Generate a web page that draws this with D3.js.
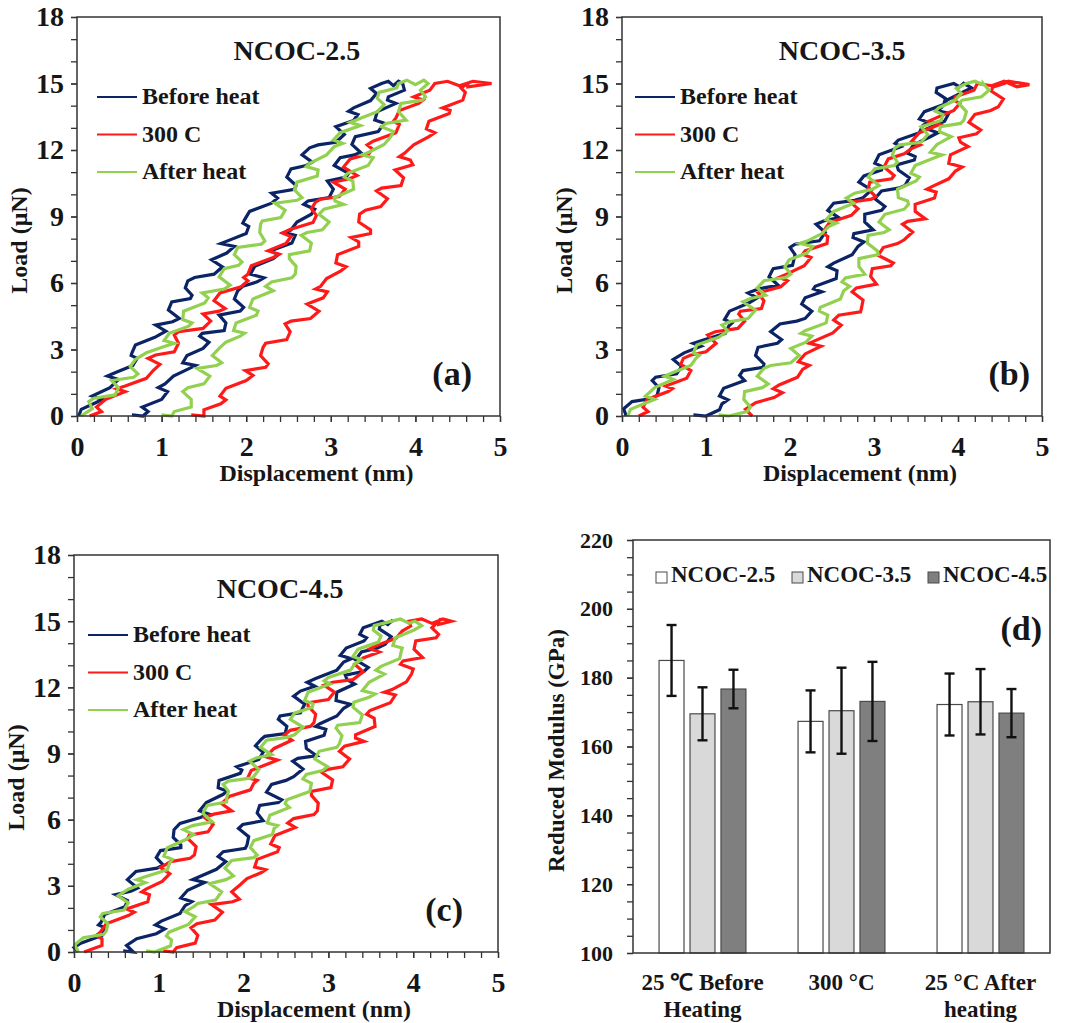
<!DOCTYPE html>
<html>
<head>
<meta charset="utf-8">
<script src="https://cdn.jsdelivr.net/npm/d3@7"></script>
<style>
  body { margin: 0; background: #fff; }
</style>
</head>
<body>
<svg id="fig" width="1068" height="1023"></svg>
<script>
// ---- load-displacement data (displacement nm, load uN) ----
const seriesNames = ["Before heat", "300 C", "After heat"];
const dispTicks = [0, 1, 2, 3, 4, 5];
const loadTicks = [0, 3, 6, 9, 12, 15, 18];

const a_beforeHeat = [[0.02,0],[0.05,0.3],[0.22,0.6],[0.30,0.75],[0.18,0.9],[0.39,1.28],[0.49,1.65],[0.36,1.8],[0.45,1.95],[0.66,2.28],[0.71,2.6],[0.64,2.73],[0.65,2.85],[0.69,3.2],[0.92,3.55],[1.05,3.83],[0.93,4.1],[1.13,4.25],[1.21,4.4],[1.08,4.78],[1.12,5.15],[1.34,5.3],[1.36,5.45],[1.28,5.78],[1.31,6.1],[1.39,6.25],[1.62,6.4],[1.72,6.73],[1.59,7.05],[1.77,7.35],[1.86,7.65],[1.70,7.78],[1.78,7.9],[2.0,8.23],[2.03,8.55],[1.96,8.7],[1.98,8.85],[2.04,9.23],[2.30,9.6],[2.37,9.83],[2.30,10.05],[2.57,10.23],[2.59,10.4],[2.48,10.78],[2.53,11.15],[2.71,11.3],[2.78,11.45],[2.66,11.78],[2.75,12.1],[2.85,12.23],[3.06,12.35],[3.16,12.7],[3.06,13.05],[3.27,13.33],[3.32,13.6],[3.21,13.75],[3.27,13.9],[3.47,14.23],[3.54,14.55],[3.47,14.78],[3.6,15],
  [3.68,15.1],[3.74,14.9],[3.8,15.1],
  [3.85,15],[3.87,14.7],[3.68,14.4],[3.67,14.25],[3.77,14.1],[3.55,13.73],[3.52,13.35],[3.64,13.2],[3.60,13.05],[3.56,12.83],[3.29,12.6],[3.25,12.25],[3.35,11.9],[3.28,11.78],[3.11,11.65],[3.04,11.3],[3.21,10.95],[3.18,10.78],[2.96,10.6],[3.03,10.23],[2.98,9.85],[2.73,9.7],[2.68,9.55],[2.81,9.33],[2.77,9.1],[2.60,8.75],[2.53,8.4],[2.45,8.28],[2.58,8.15],[2.54,7.8],[2.29,7.45],[2.38,7.28],[2.32,7.1],[2.10,6.75],[2.05,6.4],[2.21,6.23],[2.13,6.05],[1.96,5.85],[1.90,5.65],[1.86,5.28],[1.97,4.9],[1.93,4.73],[1.68,4.55],[1.76,4.2],[1.74,3.85],[1.48,3.73],[1.45,3.6],[1.56,3.33],[1.49,3.05],[1.30,2.73],[1.25,2.4],[1.40,2.28],[1.33,2.15],[1.14,1.8],[1.04,1.45],[0.96,1.28],[1.07,1.1],[1.00,0.75],[0.77,0.4],[0.84,0.2],[0.78,0],[0.65,0.05]];
const a_300C = [[0.15,0],[0.29,0.2],[0.23,0.4],[0.34,0.75],[0.57,1.1],[0.47,1.23],[0.57,1.35],[0.82,1.7],[0.90,2.05],[0.98,2.33],[0.84,2.6],[0.93,2.75],[1.15,2.9],[1.20,3.28],[1.15,3.65],[1.20,3.8],[1.49,3.95],[1.58,4.28],[1.49,4.6],[1.68,4.73],[1.75,4.85],[1.62,5.2],[1.69,5.55],[1.94,5.83],[2.02,6.1],[1.97,6.25],[2.02,6.4],[2.06,6.78],[2.32,7.15],[2.39,7.3],[2.26,7.45],[2.47,7.78],[2.53,8.1],[2.43,8.25],[2.51,8.4],[2.79,8.73],[2.83,9.05],[2.77,9.35],[2.82,9.65],[2.88,9.78],[3.10,9.9],[3.17,10.23],[3.03,10.55],[3.22,10.7],[3.31,10.85],[3.15,11.23],[3.23,11.6],[3.45,11.83],[3.49,12.05],[3.43,12.23],[3.50,12.4],[3.77,12.78],[3.81,13.15],[3.74,13.3],[3.77,13.45],[3.81,13.78],[4.04,14.1],[4.09,14.25],[3.98,14.4],[4.17,14.7],[4.23,15],
  [4.38,15.1],[4.52,14.9],[4.68,15.1],[4.9,15.0],[4.62,14.85],
  [4.62,15],[4.54,14.8],[4.59,14.6],[4.56,14.25],[4.32,13.9],[4.41,13.78],[4.40,13.65],[4.16,13.3],[4.13,12.95],[4.23,12.78],[4.16,12.6],[3.98,12.23],[3.87,11.85],[3.81,11.7],[3.94,11.55],[3.97,11.33],[3.76,11.1],[3.86,10.75],[3.83,10.4],[3.60,10.28],[3.54,10.15],[3.67,9.8],[3.59,9.45],[3.41,9.28],[3.34,9.1],[3.33,8.75],[3.47,8.4],[3.47,8.23],[3.24,8.05],[3.33,7.85],[3.33,7.65],[3.08,7.28],[3.06,6.9],[3.18,6.73],[3.12,6.55],[2.95,6.2],[2.88,5.85],[2.82,5.73],[2.96,5.6],[2.91,5.33],[2.72,5.05],[2.86,4.73],[2.76,4.4],[2.53,4.28],[2.46,4.15],[2.52,3.8],[2.48,3.45],[2.23,3.28],[2.2,3.1],[2.17,2.73],[2.26,2.35],[2.23,2.2],[1.99,2.05],[2.08,1.83],[2.0,1.6],[1.76,1.25],[1.69,0.9],[1.76,0.73],[1.70,0.55],[1.50,0.28],[1.5,0],[1.35,0.05]];
const a_afterHeat = [[0.05,0],[0.18,0.33],[0.14,0.65],[0.20,0.8],[0.45,0.95],[0.49,1.28],[0.41,1.6],[0.67,1.75],[0.72,1.9],[0.63,2.23],[0.69,2.55],[0.82,2.85],[1.04,3.15],[1.15,3.28],[1.03,3.4],[1.09,3.73],[1.32,4.05],[1.36,4.2],[1.25,4.35],[1.26,4.73],[1.51,5.1],[1.55,5.33],[1.48,5.55],[1.74,5.73],[1.81,5.9],[1.68,6.28],[1.74,6.65],[1.91,6.8],[1.95,6.95],[1.86,7.28],[1.90,7.6],[2.18,7.75],[2.22,7.9],[2.16,8.28],[2.17,8.65],[2.19,8.8],[2.41,8.95],[2.46,9.28],[2.34,9.6],[2.60,9.73],[2.66,9.85],[2.57,10.2],[2.60,10.55],[2.84,10.83],[2.85,11.1],[2.71,11.25],[2.75,11.4],[2.95,11.78],[3.04,12.15],[3.14,12.3],[3.03,12.45],[3.11,12.78],[3.35,13.1],[3.23,13.25],[3.33,13.4],[3.55,13.73],[3.63,14.05],[3.55,14.33],[3.57,14.6],[3.78,14.8],[3.8,15],
  [3.9,15.15],[4.0,14.95],[4.1,15.15],
  [4.15,15],[4.06,14.7],[4.12,14.4],[4.08,14.25],[3.83,14.1],[3.80,13.73],[3.89,13.35],[3.65,13.2],[3.60,13.05],[3.74,12.83],[3.71,12.6],[3.63,12.25],[3.45,11.9],[3.37,11.78],[3.50,11.65],[3.44,11.3],[3.20,10.95],[3.16,10.78],[3.26,10.6],[3.27,10.23],[3.04,9.85],[3.05,9.7],[3.15,9.55],[2.92,9.33],[2.86,9.1],[2.98,8.75],[2.90,8.4],[2.72,8.28],[2.65,8.15],[2.77,7.8],[2.75,7.45],[2.51,7.28],[2.51,7.1],[2.59,6.75],[2.58,6.4],[2.54,6.23],[2.30,6.05],[2.23,5.85],[2.32,5.65],[2.08,5.28],[2.04,4.9],[2.14,4.73],[2.12,4.55],[1.88,4.2],[1.85,3.85],[1.98,3.73],[1.93,3.6],[1.76,3.33],[1.68,3.05],[1.60,2.73],[1.71,2.4],[1.65,2.28],[1.42,2.15],[1.57,1.8],[1.50,1.45],[1.31,1.28],[1.25,1.1],[1.35,0.75],[1.35,0.4],[1.15,0.2],[1.12,0],[1.0,0.05]];

const b_beforeHeat = [[0.05,0],[0.02,0.33],[0.12,0.65],[0.37,0.8],[0.42,0.95],[0.44,1.28],[0.36,1.6],[0.40,1.75],[0.65,1.9],[0.71,2.23],[0.61,2.55],[0.74,2.85],[0.94,3.15],[0.85,3.28],[0.95,3.4],[1.23,3.73],[1.27,4.05],[1.31,4.2],[1.22,4.35],[1.28,4.73],[1.51,5.1],[1.61,5.33],[1.5,5.55],[1.62,5.73],[1.86,5.9],[1.75,6.28],[1.80,6.65],[2.03,6.8],[2.04,6.95],[2.06,7.28],[2.0,7.6],[2.06,7.75],[2.35,7.9],[2.42,8.28],[2.31,8.65],[2.40,8.8],[2.58,8.95],[2.45,9.28],[2.52,9.6],[2.77,9.73],[2.87,9.85],[2.97,10.2],[2.82,10.55],[2.88,10.83],[3.09,11.1],[3.10,11.25],[3.01,11.4],[3.06,11.78],[3.32,12.15],[3.25,12.3],[3.29,12.45],[3.54,12.78],[3.58,13.1],[3.64,13.25],[3.54,13.4],[3.60,13.73],[3.83,14.05],[3.85,14.33],[3.74,14.6],[3.75,14.8],[3.95,15],
  [4.02,14.85],[4.08,15.05],
  [4.07,15],[4.16,14.8],[4.05,14.6],[3.87,14.25],[3.80,13.9],[3.75,13.78],[3.89,13.65],[3.84,13.3],[3.63,12.95],[3.76,12.78],[3.67,12.6],[3.47,12.23],[3.40,11.85],[3.49,11.7],[3.48,11.55],[3.27,11.33],[3.29,11.1],[3.42,10.75],[3.37,10.4],[3.29,10.28],[3.09,10.15],[3.01,9.8],[3.13,9.45],[3.09,9.28],[2.89,9.1],[2.89,8.75],[2.99,8.4],[2.76,8.23],[2.75,8.05],[2.88,7.85],[2.81,7.65],[2.74,7.28],[2.52,6.9],[2.45,6.73],[2.56,6.55],[2.55,6.2],[2.30,5.85],[2.28,5.73],[2.38,5.6],[2.18,5.33],[2.14,5.05],[2.26,4.73],[2.18,4.4],[2.08,4.28],[1.88,4.15],[1.77,3.8],[1.90,3.45],[1.85,3.28],[1.62,3.1],[1.59,2.73],[1.69,2.35],[1.68,2.2],[1.44,2.05],[1.40,1.83],[1.46,1.6],[1.21,1.25],[1.16,0.9],[1.26,0.73],[1.19,0.55],[1.16,0.28],[1.0,0],[0.85,0.05]];
const b_300C = [[0.2,0],[0.31,0.2],[0.25,0.4],[0.30,0.75],[0.55,1.1],[0.60,1.23],[0.52,1.35],[0.77,1.7],[0.82,2.05],[0.70,2.33],[0.73,2.6],[0.82,2.75],[1.0,2.9],[1.12,3.28],[1.02,3.65],[1.11,3.8],[1.38,3.95],[1.46,4.28],[1.39,4.6],[1.41,4.73],[1.66,4.85],[1.69,5.2],[1.62,5.55],[1.89,5.83],[1.97,6.1],[1.87,6.25],[1.96,6.4],[2.17,6.78],[2.25,7.15],[2.15,7.3],[2.18,7.45],[2.44,7.78],[2.45,8.1],[2.39,8.25],[2.41,8.4],[2.47,8.73],[2.73,9.05],[2.81,9.35],[2.72,9.65],[2.97,9.78],[3.02,9.9],[2.93,10.23],[2.95,10.55],[3.21,10.7],[3.24,10.85],[3.12,11.23],[3.17,11.6],[3.36,11.83],[3.44,12.05],[3.55,12.23],[3.45,12.4],[3.54,12.78],[3.78,13.15],[3.65,13.3],[3.74,13.45],[3.95,13.78],[4.02,14.1],[3.95,14.25],[3.97,14.4],[4.19,14.7],[4.23,15],
  [4.4,14.9],[4.55,15.1],[4.7,14.85],[4.85,14.95],[4.6,15.1],
  [4.55,15],[4.41,14.83],[4.40,14.65],[4.54,14.3],[4.48,13.95],[4.39,13.78],[4.2,13.6],[4.13,13.25],[4.27,12.9],[4.22,12.73],[4.01,12.55],[4.03,12.35],[4.12,12.15],[3.91,11.78],[3.89,11.4],[4.05,11.23],[3.97,11.05],[3.89,10.7],[3.69,10.35],[3.63,10.23],[3.74,10.1],[3.72,9.83],[3.49,9.55],[3.49,9.23],[3.61,8.9],[3.40,8.78],[3.34,8.65],[3.46,8.3],[3.36,7.95],[3.28,7.78],[3.11,7.6],[3.05,7.25],[3.23,6.9],[3.20,6.78],[2.98,6.65],[2.96,6.3],[3.03,5.95],[2.79,5.78],[2.74,5.6],[2.87,5.23],[2.85,4.85],[2.84,4.7],[2.58,4.55],[2.52,4.33],[2.61,4.1],[2.51,3.75],[2.3,3.4],[2.23,3.28],[2.37,3.15],[2.18,2.8],[2.1,2.45],[2.23,2.28],[2.15,2.1],[2.09,1.75],[1.87,1.4],[1.80,1.23],[1.91,1.05],[1.81,0.83],[1.59,0.6],[1.47,0.3],[1.55,0]];
const b_afterHeat = [[0.07,0],[0.10,0.3],[0.29,0.6],[0.39,0.75],[0.28,0.9],[0.39,1.28],[0.61,1.65],[0.51,1.8],[0.6,1.95],[0.82,2.28],[0.88,2.6],[0.92,2.73],[0.85,2.85],[0.89,3.2],[1.15,3.55],[1.26,3.83],[1.19,4.1],[1.28,4.25],[1.5,4.4],[1.59,4.78],[1.44,5.15],[1.53,5.3],[1.71,5.45],[1.61,5.78],[1.69,6.1],[1.95,6.25],[2.01,6.4],[1.94,6.73],[1.99,7.05],[2.20,7.35],[2.27,7.65],[2.12,7.78],[2.21,7.9],[2.38,8.23],[2.46,8.55],[2.55,8.7],[2.43,8.85],[2.52,9.23],[2.76,9.6],[2.67,9.83],[2.77,10.05],[2.98,10.23],[3.06,10.4],[2.93,10.78],[3.01,11.15],[3.24,11.3],[3.28,11.45],[3.22,11.78],[3.25,12.1],[3.31,12.23],[3.56,12.35],[3.64,12.7],[3.56,13.05],[3.80,13.33],[3.82,13.6],[3.73,13.75],[3.77,13.9],[3.96,14.23],[4.04,14.55],[3.98,14.78],[4.1,15],
  [4.2,15.1],[4.3,14.95],
  [4.3,15],[4.37,14.7],[4.28,14.4],[4.05,14.25],[4.01,14.1],[4.10,13.73],[4.07,13.35],[4.03,13.2],[3.79,13.05],[3.78,12.83],[3.92,12.6],[3.75,12.25],[3.67,11.9],[3.81,11.78],[3.72,11.65],[3.49,11.3],[3.44,10.95],[3.54,10.78],[3.5,10.6],[3.28,10.23],[3.29,9.85],[3.40,9.7],[3.41,9.55],[3.36,9.33],[3.13,9.1],[3.06,8.75],[3.18,8.4],[3.12,8.28],[2.93,8.15],[2.92,7.8],[3.04,7.45],[3.05,7.28],[2.82,7.1],[2.82,6.75],[2.89,6.4],[2.66,6.23],[2.62,6.05],[2.71,5.85],[2.64,5.65],[2.60,5.28],[2.36,4.9],[2.35,4.73],[2.45,4.55],[2.43,4.2],[2.18,3.85],[2.13,3.73],[2.26,3.6],[2.19,3.33],[2.01,3.05],[2.11,2.73],[2.01,2.4],[1.77,2.28],[1.69,2.15],[1.61,1.8],[1.74,1.45],[1.67,1.28],[1.46,1.1],[1.45,0.75],[1.53,0.4],[1.49,0.2],[1.27,0],[1.15,0.05]];

const c_beforeHeat = [[0.05,0],[0.0,0.2],[0.08,0.4],[0.33,0.75],[0.37,1.1],[0.29,1.23],[0.32,1.35],[0.36,1.7],[0.6,2.05],[0.63,2.33],[0.49,2.6],[0.67,2.75],[0.75,2.9],[0.63,3.28],[0.73,3.65],[0.98,3.8],[1.05,3.95],[0.97,4.28],[1.02,4.6],[1.26,4.73],[1.26,4.85],[1.17,5.2],[1.18,5.55],[1.25,5.83],[1.49,6.1],[1.59,6.25],[1.48,6.4],[1.56,6.78],[1.76,7.15],[1.80,7.3],[1.7,7.45],[1.71,7.78],[1.96,8.1],[1.98,8.25],[1.92,8.4],[2.18,8.73],[2.23,9.05],[2.14,9.35],[2.21,9.65],[2.25,9.78],[2.49,9.9],[2.51,10.23],[2.41,10.55],[2.43,10.7],[2.67,10.85],[2.72,11.23],[2.59,11.6],[2.67,11.83],[2.84,12.05],[2.75,12.23],[2.85,12.4],[3.10,12.78],[3.18,13.15],[3.27,13.3],[3.14,13.45],[3.21,13.78],[3.42,14.1],[3.45,14.25],[3.37,14.4],[3.41,14.7],[3.63,15],
  [3.7,14.85],[3.76,15.05],
  [3.75,15],[3.61,14.83],[3.6,14.65],[3.74,14.3],[3.67,13.95],[3.58,13.78],[3.39,13.6],[3.32,13.25],[3.47,12.9],[3.42,12.73],[3.2,12.55],[3.22,12.35],[3.31,12.15],[3.10,11.78],[3.09,11.4],[3.26,11.23],[3.18,11.05],[3.10,10.7],[2.9,10.35],[2.85,10.23],[2.97,10.1],[2.95,9.83],[2.73,9.55],[2.74,9.23],[2.86,8.9],[2.64,8.78],[2.58,8.65],[2.70,8.3],[2.59,7.95],[2.50,7.78],[2.33,7.6],[2.27,7.25],[2.45,6.9],[2.41,6.78],[2.19,6.65],[2.16,6.3],[2.23,5.95],[1.99,5.78],[1.94,5.6],[2.06,5.23],[2.04,4.85],[2.02,4.7],[1.76,4.55],[1.70,4.33],[1.79,4.1],[1.68,3.75],[1.47,3.4],[1.40,3.28],[1.54,3.15],[1.34,2.8],[1.26,2.45],[1.39,2.28],[1.31,2.1],[1.25,1.75],[1.03,1.4],[0.96,1.23],[1.07,1.05],[0.97,0.83],[0.74,0.6],[0.62,0.3],[0.7,0],[0.58,0.05]];
const c_300C = [[0.12,0],[0.33,0.3],[0.33,0.6],[0.26,0.75],[0.31,0.9],[0.38,1.28],[0.64,1.65],[0.71,1.8],[0.62,1.95],[0.87,2.28],[0.89,2.6],[0.80,2.73],[0.85,2.85],[1.04,3.2],[1.13,3.55],[1.02,3.83],[1.14,4.1],[1.37,4.25],[1.42,4.4],[1.44,4.78],[1.34,5.15],[1.36,5.3],[1.58,5.45],[1.64,5.78],[1.54,6.1],[1.65,6.25],[1.86,6.4],[1.74,6.73],[1.83,7.05],[2.08,7.35],[2.12,7.65],[2.16,7.78],[2.05,7.9],[2.09,8.23],[2.3,8.55],[2.40,8.7],[2.26,8.85],[2.36,9.23],[2.57,9.6],[2.48,9.83],[2.55,10.05],[2.79,10.23],[2.83,10.4],[2.85,10.78],[2.76,11.15],[2.76,11.3],[3.0,11.45],[3.07,11.78],[2.95,12.1],[3.05,12.23],[3.29,12.35],[3.41,12.7],[3.31,13.05],[3.41,13.33],[3.6,13.6],[3.49,13.75],[3.57,13.9],[3.80,14.23],[3.87,14.55],[3.97,14.78],[3.95,15],
  [4.1,15.1],[4.22,14.9],[4.35,15.1],[4.45,15.0],[4.3,14.85],
  [4.3,15],[4.22,14.7],[4.3,14.4],[4.27,14.25],[4.03,14.1],[4.01,13.73],[4.11,13.35],[3.88,13.2],[3.85,13.05],[4.00,12.83],[3.98,12.6],[3.92,12.25],[3.75,11.9],[3.66,11.78],[3.79,11.65],[3.73,11.3],[3.49,10.95],[3.45,10.78],[3.54,10.6],[3.55,10.23],[3.32,9.85],[3.32,9.7],[3.42,9.55],[3.19,9.33],[3.13,9.1],[3.25,8.75],[3.17,8.4],[2.99,8.28],[2.92,8.15],[3.05,7.8],[3.03,7.45],[2.80,7.28],[2.8,7.1],[2.88,6.75],[2.87,6.4],[2.83,6.23],[2.59,6.05],[2.52,5.85],[2.61,5.65],[2.37,5.28],[2.32,4.9],[2.42,4.73],[2.4,4.55],[2.16,4.2],[2.13,3.85],[2.26,3.73],[2.21,3.6],[2.04,3.33],[1.96,3.05],[1.86,2.73],[1.95,2.4],[1.87,2.28],[1.62,2.15],[1.75,1.8],[1.66,1.45],[1.45,1.28],[1.38,1.1],[1.46,0.75],[1.43,0.4],[1.21,0.2],[1.17,0],[1.05,0.05]];
const c_afterHeat = [[0.05,0],[0.01,0.33],[0.11,0.65],[0.35,0.8],[0.38,0.95],[0.40,1.28],[0.31,1.6],[0.34,1.75],[0.59,1.9],[0.64,2.23],[0.52,2.55],[0.64,2.85],[0.84,3.15],[0.74,3.28],[0.83,3.4],[1.10,3.73],[1.13,4.05],[1.16,4.2],[1.06,4.35],[1.10,4.73],[1.32,5.1],[1.41,5.33],[1.29,5.55],[1.40,5.73],[1.63,5.9],[1.52,6.28],[1.57,6.65],[1.80,6.8],[1.8,6.95],[1.82,7.28],[1.76,7.6],[1.82,7.75],[2.11,7.9],[2.18,8.28],[2.07,8.65],[2.15,8.8],[2.33,8.95],[2.20,9.28],[2.27,9.6],[2.51,9.73],[2.6,9.85],[2.70,10.2],[2.55,10.55],[2.60,10.83],[2.81,11.1],[2.82,11.25],[2.72,11.4],[2.76,11.78],[3.02,12.15],[2.95,12.3],[3.0,12.45],[3.26,12.78],[3.32,13.1],[3.39,13.25],[3.29,13.4],[3.35,13.73],[3.59,14.05],[3.62,14.33],[3.53,14.6],[3.54,14.8],[3.75,15],
  [3.85,15.1],[3.95,14.9],
  [4.02,15],[4.10,14.8],[4.01,14.6],[3.79,14.25],[3.76,13.9],[3.87,13.78],[3.86,13.65],[3.84,13.3],[3.62,12.95],[3.56,12.78],[3.66,12.6],[3.48,12.23],[3.4,11.85],[3.55,11.7],[3.48,11.55],[3.30,11.33],[3.29,11.1],[3.40,10.75],[3.37,10.4],[3.11,10.28],[3.09,10.15],[3.16,9.8],[3.13,9.45],[3.10,9.28],[2.89,9.1],[2.84,8.75],[2.99,8.4],[2.93,8.23],[2.74,8.05],[2.70,7.85],[2.8,7.65],[2.78,7.28],[2.51,6.9],[2.49,6.73],[2.54,6.55],[2.31,6.2],[2.28,5.85],[2.40,5.73],[2.36,5.6],[2.34,5.33],[2.12,5.05],[2.08,4.73],[2.16,4.4],[2.12,4.28],[1.86,4.15],[1.78,3.8],[1.88,3.45],[1.79,3.28],[1.6,3.1],[1.74,2.73],[1.67,2.35],[1.46,2.2],[1.41,2.05],[1.31,1.83],[1.43,1.6],[1.35,1.25],[1.12,0.9],[1.09,0.73],[1.15,0.55],[1.14,0.28],[0.95,0],[0.85,0.05]];

// ---- reduced modulus bar data (GPa) ----
const conditions = ["25 ℃ Before|Heating", "300 °C", "25 °C After|heating"];
const samples = ["NCOC-2.5", "NCOC-3.5", "NCOC-4.5"];
const ncoc25 = [185.0, 167.3, 172.2];
const ncoc35 = [169.5, 170.4, 173.0];
const ncoc45 = [176.7, 173.1, 169.7];
const ncoc25Err = [10.3, 9.0, 9.0];
const ncoc35Err = [7.7, 12.5, 9.5];
const ncoc45Err = [5.6, 11.5, 7.0];
const modulusTicks = [100, 120, 140, 160, 180, 200, 220];

// ---- styles ----
const FONT = "'Liberation Serif', 'Times New Roman', serif";
const lineColors = ["#0b2466", "#ff1a1a", "#92d050"];
const barFills = ["#ffffff", "#d9d9d9", "#7f7f7f"];
const axisColor = "#333";
const textColor = "#161616";

const svg = d3.select("#fig")
    .attr("font-family", FONT)
    .attr("font-weight", "bold");
svg.append("rect").attr("width", 1068).attr("height", 1023).attr("fill", "#fff");

const styleAxis = (g) => {
    g.select(".domain").remove();
    g.selectAll(".tick line").attr("stroke", axisColor).attr("stroke-width", 1.3);
    g.selectAll(".tick text").attr("font-family", FONT).attr("font-weight", "bold").attr("fill", textColor);
};

const addText = (parent, size) => parent.append("text")
    .attr("font-family", FONT).attr("font-weight", "bold")
    .attr("font-size", size).attr("fill", textColor);

const drawLoadPanel = (p) => {
    const x = d3.scaleLinear().domain([0, 5]).range([p.left, p.right]);
    const y = d3.scaleLinear().domain([0, 18]).range([p.bottom, p.top]);
    const g = svg.append("g");

    // minor ticks
    g.append("g")
        .attr("transform", `translate(0,${p.bottom})`)
        .call(d3.axisBottom(x).tickValues(d3.range(0, 5.01, 0.2)).tickSize(6).tickFormat(""))
        .call(styleAxis);
    g.append("g")
        .attr("transform", `translate(${p.left},0)`)
        .call(d3.axisLeft(y).tickValues(d3.range(0, 18.1, 1)).tickSize(6).tickFormat(""))
        .call(styleAxis);

    // labelled ticks
    g.append("g")
        .attr("transform", `translate(0,${p.bottom})`)
        .call(d3.axisBottom(x).tickValues(dispTicks).tickSize(6).tickPadding(14).tickFormat(d3.format("d")))
        .call(styleAxis)
        .selectAll("text").attr("font-size", 28);
    g.append("g")
        .attr("transform", `translate(${p.left},0)`)
        .call(d3.axisLeft(y).tickValues(loadTicks).tickSize(6).tickPadding(7).tickFormat(d3.format("d")))
        .call(styleAxis)
        .selectAll("text").attr("font-size", 28);

    // curves
    const line = d3.line().x(d => x(d[0])).y(d => y(d[1]));
    p.series.forEach((s, i) => {
        g.append("path")
            .datum(s)
            .attr("fill", "none")
            .attr("stroke", lineColors[i])
            .attr("stroke-width", 3.2)
            .attr("stroke-linejoin", "miter")
            .attr("d", line);
    });

    // frame
    g.append("rect")
        .attr("x", p.left).attr("y", p.top)
        .attr("width", p.right - p.left).attr("height", p.bottom - p.top)
        .attr("fill", "none").attr("stroke", axisColor).attr("stroke-width", 1.5);

    // title and panel letter
    addText(g, 28)
        .attr("x", x(p.titleX)).attr("y", y(16.05))
        .attr("text-anchor", "middle")
        .text(p.title);
    addText(g, 34)
        .attr("x", p.right - p.letterInset).attr("y", p.bottom - 31)
        .attr("text-anchor", "end")
        .text(p.letter);

    // legend
    const leg = g.append("g").attr("transform", `translate(${p.left + p.legendInset},${p.top + 80})`);
    seriesNames.forEach((name, i) => {
        const row = leg.append("g").attr("transform", `translate(0,${i * 37.5})`);
        row.append("line").attr("x1", 0).attr("x2", 40).attr("y1", 0).attr("y2", 0)
            .attr("stroke", lineColors[i]).attr("stroke-width", 2.2);
        addText(row, 24).attr("x", 45).attr("y", 7).text(name);
    });

    // axis titles
    addText(g, 24)
        .attr("x", (p.left + p.right) / 2 + 28).attr("y", p.bottom + 65)
        .attr("text-anchor", "middle")
        .text("Displacement (nm)");
    addText(g, 24)
        .attr("transform", `translate(${p.left - 50},${(p.top + p.bottom) / 2 + 24}) rotate(-90)`)
        .attr("text-anchor", "middle")
        .text("Load (μN)");
};

drawLoadPanel({left: 77, right: 500, top: 17, bottom: 416, title: "NCOC-2.5", titleX: 2.6,
    letter: "(a)", letterInset: 28, legendInset: 20, series: [a_beforeHeat, a_300C, a_afterHeat]});
drawLoadPanel({left: 622, right: 1042, top: 17, bottom: 416, title: "NCOC-3.5", titleX: 2.62,
    letter: "(b)", letterInset: 12, legendInset: 13, series: [b_beforeHeat, b_300C, b_afterHeat]});
drawLoadPanel({left: 74, right: 498, top: 555, bottom: 952, title: "NCOC-4.5", titleX: 2.43,
    letter: "(c)", letterInset: 35, legendInset: 14, series: [c_beforeHeat, c_300C, c_afterHeat]});

// ---- panel (d): bar chart ----
const d = {left: 633, right: 1050, top: 540, bottom: 953};
const xBand = d3.scaleBand().domain(conditions).range([d.left, d.right]).paddingInner(0.375).paddingOuter(0.1875);
const xSub = d3.scaleBand().domain(samples).range([0, xBand.bandwidth()]).paddingInner(0.194);
const yMod = d3.scaleLinear().domain([100, 220]).range([d.bottom, d.top]);
const gd = svg.append("g");

gd.append("g")
    .attr("transform", `translate(${d.left},0)`)
    .call(d3.axisLeft(yMod).tickValues(d3.range(100, 221, 5)).tickSize(6).tickFormat(""))
    .call(styleAxis);
gd.append("g")
    .attr("transform", `translate(${d.left},0)`)
    .call(d3.axisLeft(yMod).tickValues(modulusTicks).tickSize(6).tickPadding(14).tickFormat(d3.format("d")))
    .call(styleAxis)
    .selectAll("text").attr("font-size", 22);

const barRows = conditions.map((c, ci) => samples.map((s, si) => ({
    cond: c, sample: s, idx: si,
    value: [ncoc25, ncoc35, ncoc45][si][ci],
    err: [ncoc25Err, ncoc35Err, ncoc45Err][si][ci]
}))).flat();

gd.selectAll("rect.bar")
    .data(barRows)
    .join("rect")
    .attr("class", "bar")
    .attr("x", r => xBand(r.cond) + xSub(r.sample))
    .attr("y", r => yMod(r.value))
    .attr("width", xSub.bandwidth())
    .attr("height", r => yMod(100) - yMod(r.value))
    .attr("fill", r => barFills[r.idx])
    .attr("stroke", "#4a4a4a")
    .attr("stroke-width", 1.2);

const errG = gd.selectAll("g.err").data(barRows).join("g").attr("class", "err");
const cx = r => xBand(r.cond) + xSub(r.sample) + xSub.bandwidth() / 2;
errG.append("line")
    .attr("x1", cx).attr("x2", cx)
    .attr("y1", r => yMod(r.value + r.err)).attr("y2", r => yMod(r.value - r.err))
    .attr("stroke", "#111").attr("stroke-width", 2.4);
[1, -1].forEach(sgn => {
    errG.append("line")
        .attr("x1", r => cx(r) - 5).attr("x2", r => cx(r) + 5)
        .attr("y1", r => yMod(r.value + sgn * r.err)).attr("y2", r => yMod(r.value + sgn * r.err))
        .attr("stroke", "#111").attr("stroke-width", 2.4);
});

gd.append("rect")
    .attr("x", d.left).attr("y", d.top)
    .attr("width", d.right - d.left).attr("height", d.bottom - d.top)
    .attr("fill", "none").attr("stroke", axisColor).attr("stroke-width", 1.5);

// category labels
conditions.forEach(c => {
    const cxBand = xBand(c) + xBand.bandwidth() / 2;
    const t = addText(gd, 23).attr("x", cxBand).attr("y", 990).attr("text-anchor", "middle");
    c.split("|").forEach((part, i) => {
        t.append("tspan").attr("x", cxBand).attr("dy", i === 0 ? 0 : 27).text(part);
    });
});

// legend
const legD = gd.append("g").attr("transform", `translate(656,572)`);
samples.forEach((s, i) => {
    const item = legD.append("g").attr("transform", `translate(${i * 136},0)`);
    item.append("rect").attr("width", 11).attr("height", 11)
        .attr("fill", barFills[i]).attr("stroke", "#4a4a4a").attr("stroke-width", 1);
    addText(item, 23).attr("x", 15).attr("y", 10).text(s);
});

addText(gd, 34).attr("x", d.right - 8).attr("y", 640).attr("text-anchor", "end").text("(d)");

addText(gd, 23)
    .attr("transform", `translate(564,${(d.top + d.bottom) / 2 + 4}) rotate(-90)`)
    .attr("text-anchor", "middle")
    .text("Reduced Modulus (GPa)");
</script>
</body>
</html>
